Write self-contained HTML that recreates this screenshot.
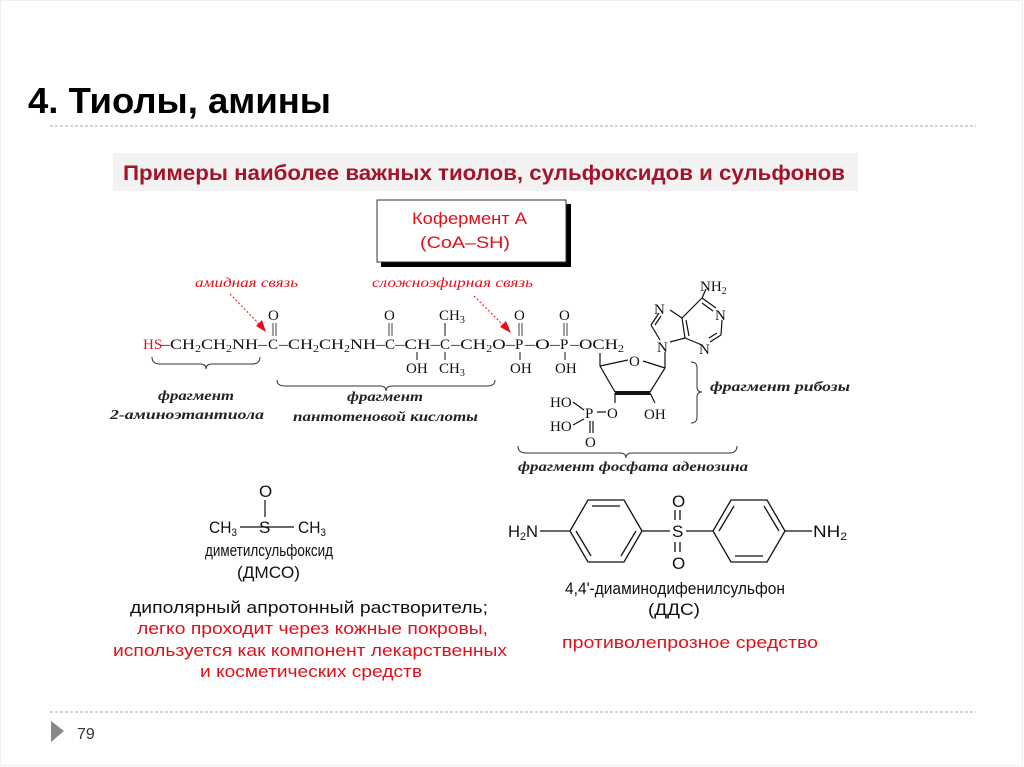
<!DOCTYPE html>
<html><head><meta charset="utf-8"><style>
html,body{margin:0;padding:0;background:#fff;}
svg{display:block;}
.t{font-family:"Liberation Sans",sans-serif;}
.s{font-family:"Liberation Serif",serif;font-size:15px;fill:#111;}
.i{font-family:"Liberation Serif",serif;font-style:italic;font-weight:bold;font-size:14px;fill:#222;}
.r{font-family:"Liberation Serif",serif;font-style:italic;font-size:14px;fill:#e0101a;}
</style></head><body>
<svg width="1024" height="767" viewBox="0 0 1024 767" xmlns="http://www.w3.org/2000/svg">
<rect x="0.5" y="0.5" width="1022" height="765" fill="#fff" stroke="#eee"/>
<text x="28" y="113" class="t" font-size="36" font-weight="bold" textLength="303" lengthAdjust="spacingAndGlyphs">4. Тиолы, амины</text>
<line x1="50" y1="126" x2="976" y2="126" stroke="#aaa" stroke-dasharray="3,2"/>
<rect x="113" y="153" width="745" height="38" fill="#f2f2f2"/>
<text x="123" y="180" class="t" font-size="21" font-weight="bold" fill="#a3142b" textLength="722" lengthAdjust="spacingAndGlyphs">Примеры наиболее важных тиолов, сульфоксидов и сульфонов</text>
<rect x="381" y="204" width="190" height="63" fill="#000"/>
<rect x="377" y="200" width="189" height="62" fill="#fff" stroke="#333"/>
<text x="412" y="224" class="t" font-size="17" fill="#e0101a" textLength="115" lengthAdjust="spacingAndGlyphs">Кофермент А</text>
<text x="420" y="248" class="t" font-size="17" fill="#e0101a" textLength="90" lengthAdjust="spacingAndGlyphs">(CoA–SH)</text>

<!-- red labels and arrows -->
<text x="195" y="287" class="r" textLength="103" lengthAdjust="spacingAndGlyphs">амидная связь</text>
<text x="372" y="287" class="r" textLength="161" lengthAdjust="spacingAndGlyphs">сложноэфирная связь</text>
<line x1="230" y1="294" x2="261" y2="326" stroke="#e0101a" stroke-dasharray="2,2"/>
<polygon points="266,332 256,326 262,320" fill="#e0101a"/>
<line x1="474" y1="296" x2="505" y2="327" stroke="#e0101a" stroke-dasharray="2,2"/>
<polygon points="511,333 500,327 506,321" fill="#e0101a"/>

<!-- main chain -->
<g class="s" font-size="16">
<text x="143" y="349" fill="#e0101a">HS</text>
<text x="161" y="349" textLength="106" lengthAdjust="spacingAndGlyphs">–CH<tspan font-size="10" dy="3">2</tspan><tspan dy="-3">CH</tspan><tspan font-size="10" dy="3">2</tspan><tspan dy="-3">NH–</tspan></text>
<text x="268" y="349">C</text>
<text x="279" y="349" textLength="106" lengthAdjust="spacingAndGlyphs">–CH<tspan font-size="10" dy="3">2</tspan><tspan dy="-3">CH</tspan><tspan font-size="10" dy="3">2</tspan><tspan dy="-3">NH–</tspan></text>
<text x="385" y="349">C</text>
<text x="395" y="349" textLength="45" lengthAdjust="spacingAndGlyphs">–CH–</text>
<text x="440" y="349">C</text>
<text x="451" y="349" textLength="64" lengthAdjust="spacingAndGlyphs">–CH<tspan font-size="10" dy="3">2</tspan><tspan dy="-3">O–</tspan></text>
<text x="515" y="349">P</text>
<text x="525" y="349" textLength="35" lengthAdjust="spacingAndGlyphs">–O–</text>
<text x="560" y="349">P</text>
<text x="570" y="349" textLength="54" lengthAdjust="spacingAndGlyphs">–OCH<tspan font-size="10" dy="3">2</tspan></text>
</g>
<g class="s" font-size="16">
<text x="268" y="320">O</text><line x1="273" y1="323" x2="273" y2="336" stroke="#111" stroke-width="0.8"/><line x1="276" y1="323" x2="276" y2="336" stroke="#111" stroke-width="0.8"/>
<text x="384" y="320">O</text><line x1="389" y1="323" x2="389" y2="336" stroke="#111" stroke-width="0.8"/><line x1="392" y1="323" x2="392" y2="336" stroke="#111" stroke-width="0.8"/>
<text x="439" y="320">CH<tspan font-size="10" dy="3">3</tspan></text><line x1="445" y1="323" x2="445" y2="336" stroke="#111"/>
<text x="406" y="373">OH</text><line x1="417" y1="352" x2="417" y2="360" stroke="#111"/>
<text x="439" y="373">CH<tspan font-size="10" dy="3">3</tspan></text><line x1="445" y1="352" x2="445" y2="360" stroke="#111"/>
<text x="514" y="320">O</text><line x1="519" y1="323" x2="519" y2="336" stroke="#111" stroke-width="0.8"/><line x1="522" y1="323" x2="522" y2="336" stroke="#111" stroke-width="0.8"/>
<text x="510" y="373">OH</text><line x1="520" y1="352" x2="520" y2="360" stroke="#111"/>
<text x="559" y="320">O</text><line x1="564" y1="323" x2="564" y2="336" stroke="#111" stroke-width="0.8"/><line x1="567" y1="323" x2="567" y2="336" stroke="#111" stroke-width="0.8"/>
<text x="555" y="373">OH</text><line x1="565" y1="352" x2="565" y2="360" stroke="#111"/>
</g>

<!-- ribose -->
<g stroke="#111" fill="none" stroke-width="1.2">
<line x1="600" y1="353" x2="600" y2="366"/>
<line x1="600" y1="366" x2="628" y2="360"/>
<line x1="643" y1="361" x2="665" y2="368"/>
<line x1="665" y1="368" x2="665" y2="352"/>
<line x1="600" y1="366" x2="615" y2="392"/>
<line x1="665" y1="368" x2="650" y2="392"/>
<line x1="615" y1="393" x2="650" y2="393" stroke-width="4"/>
<line x1="650" y1="393" x2="655" y2="403"/>
<line x1="615" y1="393" x2="615" y2="403"/>
<line x1="597" y1="412" x2="606" y2="412"/>
<line x1="573" y1="402" x2="584" y2="410"/>
<line x1="573" y1="425" x2="584" y2="419"/>
<line x1="590" y1="421" x2="590" y2="433"/><line x1="593" y1="421" x2="593" y2="433"/>
<!-- adenine -->
<line x1="660" y1="340" x2="651" y2="325"/>
<line x1="651" y1="325" x2="659" y2="313"/><line x1="655" y1="325" x2="661" y2="316"/>
<line x1="670" y1="310" x2="682" y2="318"/>
<line x1="682" y1="318" x2="685" y2="338"/><line x1="686" y1="320" x2="689" y2="336"/>
<line x1="670" y1="342" x2="685" y2="338"/>
<line x1="682" y1="318" x2="702" y2="298"/>
<line x1="702" y1="298" x2="716" y2="308"/><line x1="702" y1="303" x2="713" y2="311"/>
<line x1="702" y1="298" x2="706" y2="289"/>
<line x1="722" y1="320" x2="721" y2="335"/>
<line x1="721" y1="335" x2="710" y2="342"/><line x1="717" y1="333" x2="709" y2="338"/>
<line x1="685" y1="338" x2="702" y2="345"/>
</g>
<g class="s" font-size="16">
<text x="629" y="366">O</text>
<text x="657" y="352">N</text>
<text x="654" y="314">N</text>
<text x="715" y="320">N</text>
<text x="699" y="354">N</text>
<text x="700" y="291">NH<tspan font-size="10" dy="3">2</tspan></text>
<text x="607" y="418">O</text>
<text x="644" y="419">OH</text>
<text x="585" y="418">P</text>
<text x="550" y="407">HO</text>
<text x="550" y="431">HO</text>
<text x="585" y="447">O</text>
</g>

<!-- braces -->
<g stroke="#333" fill="none" stroke-width="1">
<path d="M152,357 Q152,364 160,364 L200,364 Q206,364 206,369 Q206,364 212,364 L252,364 Q260,364 260,357"/>
<path d="M277,380 Q277,386 285,386 L380,386 Q386,386 386,391 Q386,386 392,386 L487,386 Q495,386 495,380"/>
<path d="M691,362 Q697,362 697,368 L697,387 Q697,392 702,392 Q697,392 697,397 L697,417 Q697,423 691,423"/>
<path d="M518,446 Q518,453 526,453 L620,453 Q626,453 626,458 Q626,453 632,453 L729,453 Q737,453 737,446"/>
</g>
<text x="158" y="400" class="i" textLength="76" lengthAdjust="spacingAndGlyphs">фрагмент</text>
<text x="110" y="419" class="i" textLength="154" lengthAdjust="spacingAndGlyphs">2-аминоэтантиола</text>
<text x="347" y="401" class="i" textLength="76" lengthAdjust="spacingAndGlyphs">фрагмент</text>
<text x="293" y="421" class="i" textLength="185" lengthAdjust="spacingAndGlyphs">пантотеновой  кислоты</text>
<text x="710" y="391" class="i" textLength="140" lengthAdjust="spacingAndGlyphs">фрагмент  рибозы</text>
<text x="518" y="471" class="i" textLength="230" lengthAdjust="spacingAndGlyphs">фрагмент  фосфата аденозина</text>

<!-- DMSO -->
<g class="t" font-size="17" fill="#111">
<text x="259" y="497">O</text>
<line x1="265" y1="500" x2="265" y2="517" stroke="#111" stroke-width="1.2"/>
<text x="209" y="533" textLength="28" lengthAdjust="spacingAndGlyphs">CH<tspan font-size="11" dy="3">3</tspan></text>
<text x="259" y="533">S</text>
<text x="298" y="533" textLength="28" lengthAdjust="spacingAndGlyphs">CH<tspan font-size="11" dy="3">3</tspan></text>
<line x1="240" y1="527" x2="294" y2="527" stroke="#111" stroke-width="1.2"/>
<text x="205" y="556" textLength="128" lengthAdjust="spacingAndGlyphs">диметилсульфоксид</text>
<text x="237" y="578" textLength="63" lengthAdjust="spacingAndGlyphs">(ДМСО)</text>
<text x="130" y="613" textLength="358" lengthAdjust="spacingAndGlyphs">диполярный  апротонный растворитель;</text>
<text x="137" y="634" fill="#e0101a" textLength="351" lengthAdjust="spacingAndGlyphs">легко проходит  через кожные покровы,</text>
<text x="113" y="656" fill="#e0101a" textLength="394" lengthAdjust="spacingAndGlyphs">используется  как компонент лекарственных</text>
<text x="200" y="677" fill="#e0101a" textLength="222" lengthAdjust="spacingAndGlyphs">и косметических средств</text>
</g>

<!-- DDS -->
<g stroke="#111" fill="none" stroke-width="1.3">
<polygon points="570,531 588,500 624,500 642,531 624,562 588,562"/>
<line x1="592" y1="506" x2="620" y2="506"/>
<line x1="576" y1="531" x2="591" y2="556"/>
<line x1="636" y1="531" x2="621" y2="556"/>
<polygon points="713,531 731,500 767,500 785,531 767,562 731,562"/>
<line x1="719" y1="531" x2="734" y2="506"/>
<line x1="779" y1="531" x2="764" y2="506"/>
<line x1="735" y1="556" x2="763" y2="556"/>
<line x1="540" y1="531" x2="570" y2="531"/>
<line x1="642" y1="531" x2="670" y2="531"/>
<line x1="686" y1="531" x2="713" y2="531"/>
<line x1="785" y1="531" x2="812" y2="531"/>
<line x1="675" y1="510" x2="675" y2="520"/><line x1="680" y1="510" x2="680" y2="520"/>
<line x1="675" y1="542" x2="675" y2="552"/><line x1="680" y1="542" x2="680" y2="552"/>
</g>
<g class="t" font-size="17" fill="#111">
<text x="508" y="537" textLength="30" lengthAdjust="spacingAndGlyphs">H<tspan font-size="11" dy="3">2</tspan><tspan dy="-3">N</tspan></text>
<text x="672" y="537">S</text>
<text x="672" y="507">O</text>
<text x="672" y="569">O</text>
<text x="813" y="537" textLength="34" lengthAdjust="spacingAndGlyphs">NH<tspan font-size="11" dy="3">2</tspan></text>
<text x="565" y="594" textLength="220" lengthAdjust="spacingAndGlyphs">4,4'-диаминодифенилсульфон</text>
<text x="648" y="615" textLength="52" lengthAdjust="spacingAndGlyphs">(ДДС)</text>
<text x="562" y="648" fill="#e0101a" textLength="256" lengthAdjust="spacingAndGlyphs">противолепрозное   средство</text>
</g>

<!-- footer -->
<line x1="50" y1="712" x2="976" y2="712" stroke="#aaa" stroke-dasharray="3,2"/>
<polygon points="51,721 64,731 51,742" fill="#888"/>
<text x="77" y="739" class="t" font-size="16" fill="#333">79</text>
</svg>
</body></html>
